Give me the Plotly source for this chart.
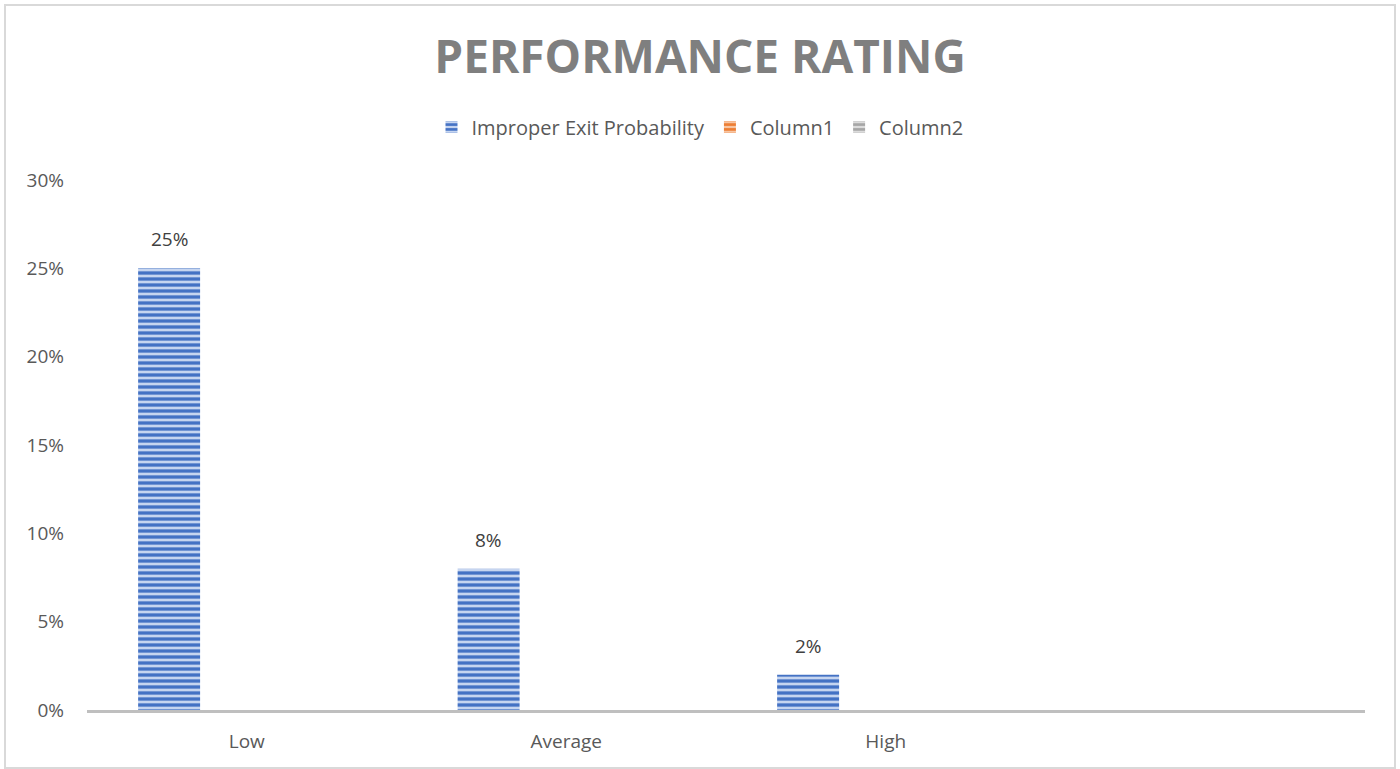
import plotly.graph_objects as go

# Categories and series values
categories = ["Low", "Average", "High", " "]
improper_exit = [0.25, 0.08, 0.02, None]
column1 = [None, None, None, None]
column2 = [None, None, None, None]

W, H = 1400, 769
ML, MR, MT, MB = 87, 35, 180, 59

BAR_W = 0.194
BAR_OFF = -0.340

TEXT = "#595959"
FONT = "Open Sans"

def striped(fg, bg):
    return dict(color=bg,
                pattern=dict(shape="-", fgcolor=fg, bgcolor=bg, size=6, solidity=0.55, fillmode="replace"),
                line=dict(width=0))

fig = go.Figure()
fig.add_trace(go.Bar(name="Improper Exit Probability", x=categories, y=improper_exit,
                     width=BAR_W, offset=BAR_OFF, marker=striped("#4472C4", "#c6d5f0")))
fig.add_trace(go.Bar(name="Column1", x=categories, y=column1,
                     width=BAR_W, offset=BAR_OFF + BAR_W, marker=striped("#ED7D31", "#f7c6a4")))
fig.add_trace(go.Bar(name="Column2", x=categories, y=column2,
                     width=BAR_W, offset=BAR_OFF + 2 * BAR_W, marker=striped("#A5A5A5", "#dcdcdc")))

# Value labels above each bar
for i, v in enumerate(improper_exit):
    if v is None:
        continue
    fig.add_annotation(x=i + BAR_OFF + BAR_W / 2, y=v, text=f"{v:.0%}", showarrow=False,
                       yanchor="bottom", yshift=14, font=dict(family=FONT, size=19, color="#404040"))

# Chart-area border
pw, ph = W - ML - MR, H - MT - MB
fig.add_shape(type="rect", xref="paper", yref="paper",
              x0=(5 - ML) / pw, x1=(1395 - ML) / pw,
              y0=(H - MB - 768) / ph, y1=(H - MB - 5) / ph,
              line=dict(color="#d9d9d9", width=2), fillcolor="rgba(0,0,0,0)", layer="below")

fig.update_layout(
    width=W, height=H,
    margin=dict(l=ML, r=MR, t=MT, b=MB),
    paper_bgcolor="white", plot_bgcolor="white",
    barmode="group",
    title=dict(text="PERFORMANCE RATING", x=0.5, xanchor="center", xref="container",
               y=1 - 57 / H, yanchor="middle", yref="container",
               font=dict(family=FONT, size=46, color="#7f7f7f", weight="bold")),
    legend=dict(orientation="h", x=0.5, xanchor="center", xref="container",
                y=1 - 127 / H, yanchor="middle", yref="container",
                font=dict(family=FONT, size=20, color=TEXT), itemwidth=30,
                traceorder="normal"),
    xaxis=dict(type="category", categoryorder="array", categoryarray=categories,
               range=[-0.5, 3.5], showline=True, linecolor="#bfbfbf", linewidth=3,
               showgrid=False, ticks="", tickfont=dict(family=FONT, size=19, color=TEXT),
               ticklabelstandoff=12),
    yaxis=dict(range=[0, 0.30], dtick=0.05, tickformat=".0%", showgrid=False, zeroline=False,
               showline=False, ticks="", tickfont=dict(family=FONT, size=19, color=TEXT),
               ticklabelstandoff=22),
)

fig.write_html("out.html")
